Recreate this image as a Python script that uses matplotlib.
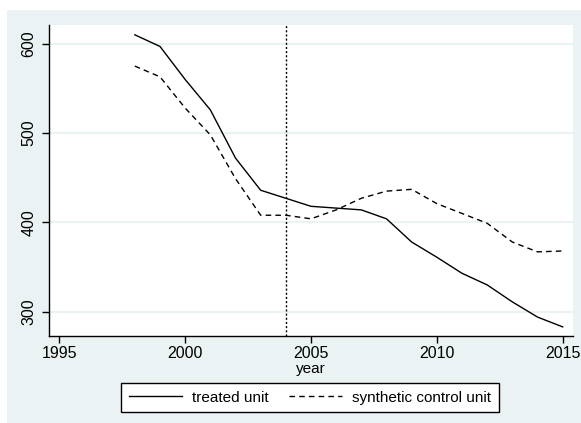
import numpy as np
import matplotlib.pyplot as plt
from matplotlib.patches import Rectangle

plt.rcParams['font.family'] = ['Liberation Sans', 'DejaVu Sans']

# data
years = [1998, 1999, 2000, 2001, 2002, 2003, 2004, 2005, 2006,
         2007, 2008, 2009, 2010, 2011, 2012, 2013, 2014, 2015]
treated = [610, 597, 560, 526, 472, 436, 427, 418, 416,
           414, 404, 378, 361, 343, 330, 311, 294, 283]
synthetic = [575, 563, 528, 498, 449, 408, 408, 404, 414,
             427, 435, 437, 421, 410, 399, 378, 367, 368]
treat_year = 2004
xticks = [1995, 2000, 2005, 2010, 2015]
yticks = [300, 400, 500, 600]

W, H = 581, 423
fig = plt.figure(figsize=(W / 100, H / 100), dpi=100)
fig.patch.set_facecolor('white')
# stata-like graph region
fig.patches.append(Rectangle((7 / W, 0), 1 - 7 / W, 1 - 10 / H,
                             transform=fig.transFigure, facecolor='#EAF2F3',
                             edgecolor='none', zorder=-5))

ax = fig.add_axes([49 / W, 87 / H, 524 / W, 311 / H])
ax.set_facecolor('white')
ax.set_xlim(1994.59, 2015.41)
ax.set_ylim(272.8, 621)

for y in yticks:
    ax.axhline(y, color='#EAF2F3', lw=1.5, zorder=1)

l1, = ax.plot(years, treated, color='black', lw=1.0, label='treated unit', zorder=3)
l2, = ax.plot(years, synthetic, color='black', lw=1.0, ls=(0, (4, 3)),
              label='synthetic control unit', zorder=3)
ax.axvline(treat_year, color='black', lw=1.0, ls=(0, (1.5, 1.5)), zorder=2)

ax.set_xticks(xticks)
ax.set_yticks(yticks)
ax.set_yticklabels([str(v) for v in yticks], rotation=90, va='center')
ax.tick_params(axis='both', direction='out', length=5, width=1, labelsize=11.5, colors='black')
ax.tick_params(axis='x', pad=2)
ax.tick_params(axis='y', pad=4)
ax.set_xlabel('year', fontsize=11, labelpad=1)

for s in ['top', 'right']:
    ax.spines[s].set_visible(False)
for s in ['left', 'bottom']:
    ax.spines[s].set_linewidth(1.0)

leg = fig.legend(handles=[l1, l2], loc='center', ncol=2,
                 bbox_to_anchor=(310 / W, 25.5 / H), fontsize=11,
                 frameon=True, fancybox=False, edgecolor='black', framealpha=1,
                 handlelength=3.5, columnspacing=1.3, borderpad=0.5,
                 handletextpad=0.65, borderaxespad=0)
leg.get_frame().set_linewidth(1.0)
leg.get_frame().set_facecolor('white')

fig.savefig('out.png', dpi=100)
